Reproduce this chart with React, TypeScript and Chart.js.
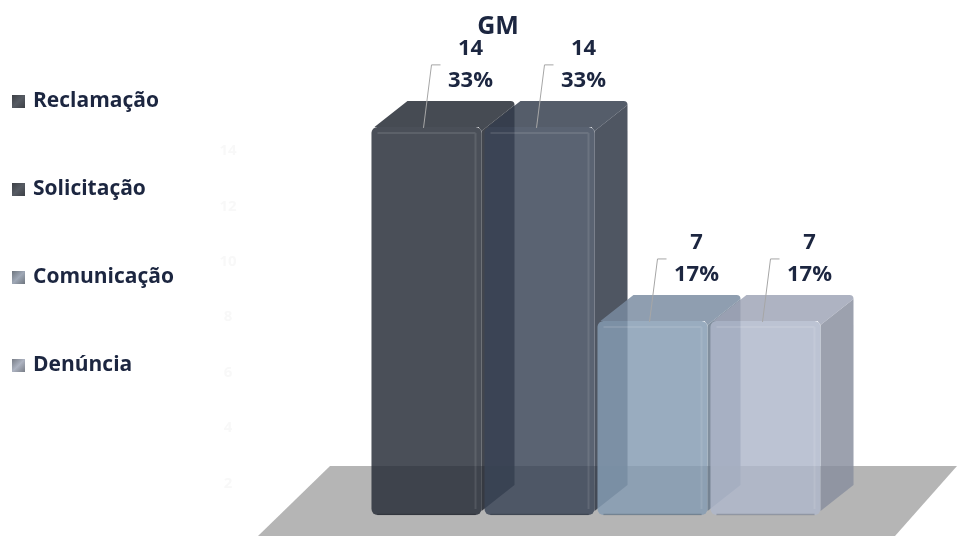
import React, { useEffect, useRef } from 'react';
import { Chart, registerables } from 'chart.js';

Chart.register(...registerables);

const chartTitle = 'GM';
const categories = ['GM'];
const seriesNames = ['Reclamação', 'Solicitação', 'Comunicação', 'Denúncia'];
const seriesValues = [14, 14, 7, 7];
const backWallTicks = [2, 4, 6, 8, 10, 12, 14];
const yMin = 0;
const yMax = 18;

const frontRGB = [
  [39, 45, 56],
  [58, 69, 87],
  [134, 156, 179],
  [175, 183, 202],
];
const legendRGB = [
  [75, 79, 86],
  [75, 79, 86],
  [138, 146, 158],
  [150, 156, 168],
];
const ALPHA = 0.84;
const DEPTH_X = 33;
const DEPTH_Y = -26;
const FONT = '"Open Sans", Lato, sans-serif';
const TEXT_COLOR = '#1c2640';

const rgba = (rgb: number[], f: number, a: number) =>
  `rgba(${rgb.map((c) => Math.min(255, Math.round(c * f))).join(',')},${a})`;

const total = seriesValues.reduce((s, v) => s + v, 0);

const threeDPlugin = {
  id: 'threeD',
  beforeDatasetsDraw(chart: any) {
    const ctx = chart.ctx as CanvasRenderingContext2D;
    const area = chart.chartArea;
    const yScale = chart.scales.y;
    ctx.save();

    // floor
    const fy = area.bottom - 49;
    ctx.fillStyle = '#b5b5b5';
    ctx.beginPath();
    ctx.moveTo(area.left - 40, fy);
    ctx.lineTo(chart.width, fy);
    ctx.lineTo(area.right + 73, chart.height);
    ctx.lineTo(area.left - 112, chart.height);
    ctx.closePath();
    ctx.fill();

    // faint back-wall ticks
    ctx.fillStyle = '#f8f8f8';
    ctx.font = `bold 15px ${FONT}`;
    ctx.textAlign = 'center';
    ctx.textBaseline = 'middle';
    backWallTicks.forEach((v) => {
      ctx.fillText(String(v), area.left - 142, yScale.getPixelForValue(v) + 24);
    });

    // bars
    chart.data.datasets.forEach((ds: any, i: number) => {
      const meta = chart.getDatasetMeta(i);
      const rgb = frontRGB[i];
      meta.data.forEach((el: any) => {
        const { x, y, base, width } = el.getProps(['x', 'y', 'base', 'width'], true);
        const xl = x - width / 2;
        const xr = x + width / 2;
        const top = y;
        // side face
        ctx.fillStyle = rgba(rgb, 0.78, ALPHA);
        ctx.beginPath();
        ctx.moveTo(xr, top + 4);
        ctx.lineTo(xr + DEPTH_X, top + DEPTH_Y + 4);
        ctx.lineTo(xr + DEPTH_X, base + DEPTH_Y - 4);
        ctx.lineTo(xr, base - 4);
        ctx.closePath();
        ctx.fill();
        // top face
        ctx.fillStyle = rgba(rgb, 0.9, ALPHA);
        ctx.beginPath();
        ctx.moveTo(xl + 3, top);
        ctx.lineTo(xl + DEPTH_X + 3, top + DEPTH_Y);
        ctx.lineTo(xr + DEPTH_X - 4, top + DEPTH_Y);
        ctx.quadraticCurveTo(xr + DEPTH_X, top + DEPTH_Y, xr + DEPTH_X, top + DEPTH_Y + 4);
        ctx.lineTo(xr, top + 4);
        ctx.lineTo(xr - 3, top);
        ctx.closePath();
        ctx.fill();
        // front face
        ctx.fillStyle = rgba(rgb, 1, ALPHA);
        ctx.beginPath();
        (ctx as any).roundRect(xl, top, width, base - top, 6);
        ctx.fill();
        // bevel highlights
        ctx.strokeStyle = 'rgba(255,255,255,0.10)';
        ctx.lineWidth = 2;
        ctx.beginPath();
        ctx.moveTo(xl + 6, top + 6);
        ctx.lineTo(xr - 6, top + 6);
        ctx.moveTo(xr - 6, top + 6);
        ctx.lineTo(xr - 6, base - 6);
        ctx.stroke();
        ctx.strokeStyle = 'rgba(0,0,0,0.18)';
        ctx.lineWidth = 1.5;
        ctx.beginPath();
        ctx.moveTo(xl + 6, base - 0.5);
        ctx.lineTo(xr - 6, base - 0.5);
        ctx.stroke();
      });
    });
    ctx.restore();
    return false;
  },
  afterDraw(chart: any) {
    const ctx = chart.ctx as CanvasRenderingContext2D;
    const area = chart.chartArea;
    ctx.save();

    // title
    ctx.fillStyle = TEXT_COLOR;
    ctx.font = `bold 25px ${FONT}`;
    ctx.textAlign = 'center';
    ctx.textBaseline = 'middle';
    ctx.fillText(chartTitle, area.left + 128, 27);

    // data labels with leader lines
    chart.data.datasets.forEach((ds: any, i: number) => {
      const meta = chart.getDatasetMeta(i);
      meta.data.forEach((el: any, j: number) => {
        const { x, y } = el.getProps(['x', 'y'], true);
        const v = ds.data[j];
        const pct = Math.round((v / total) * 100) + '%';
        ctx.strokeStyle = '#a6a6a6';
        ctx.lineWidth = 1;
        ctx.beginPath();
        ctx.moveTo(x - 3, y + 1);
        ctx.lineTo(x + 5, y - 62);
        ctx.lineTo(x + 14, y - 62);
        ctx.stroke();
        ctx.fillStyle = TEXT_COLOR;
        ctx.font = `bold 22px ${FONT}`;
        ctx.textAlign = 'center';
        ctx.textBaseline = 'middle';
        ctx.fillText(String(v), x + 44, y - 78);
        ctx.fillText(pct, x + 44, y - 46);
      });
    });

    // legend
    seriesNames.forEach((name, i) => {
      const cy = 101 + i * 88;
      const g = ctx.createLinearGradient(12, cy - 6, 25, cy + 7);
      g.addColorStop(0, rgba(legendRGB[i], 0.8, 1));
      g.addColorStop(0.5, rgba(legendRGB[i], 1.15, 1));
      g.addColorStop(1, rgba(legendRGB[i], 0.8, 1));
      ctx.fillStyle = g;
      ctx.fillRect(12, cy - 6, 13, 13);
      ctx.fillStyle = TEXT_COLOR;
      ctx.font = `bold 21px ${FONT}`;
      ctx.textAlign = 'left';
      ctx.textBaseline = 'middle';
      ctx.fillText(name, 33, cy);
    });
    ctx.restore();
  },
};

export default function App() {
  const ref = useRef<HTMLCanvasElement | null>(null);
  useEffect(() => {
    if (!ref.current) return;
    const chart = new Chart(ref.current, {
      type: 'bar',
      data: {
        labels: categories,
        datasets: seriesNames.map((name, i) => ({
          label: name,
          data: [seriesValues[i]],
          backgroundColor: rgba(frontRGB[i], 1, ALPHA),
          borderWidth: 0,
          categoryPercentage: 1,
          barPercentage: 0.974,
        })),
      },
      options: {
        animation: false,
        responsive: false,
        events: [],
        layout: { padding: { left: 370, right: 135, top: 16, bottom: 21 } },
        scales: {
          x: { display: false },
          y: { display: false, min: yMin, max: yMax },
        },
        plugins: {
          legend: { display: false },
          tooltip: { enabled: false },
          title: { display: false },
        },
      },
      plugins: [threeDPlugin],
    });
    return () => chart.destroy();
  }, []);
  return (
    <div style={{ position: 'absolute', left: 0, top: 0, width: 957, height: 536, background: '#fff' }}>
      <canvas ref={ref} width={957} height={536} style={{ display: 'block' }} />
    </div>
  );
}
